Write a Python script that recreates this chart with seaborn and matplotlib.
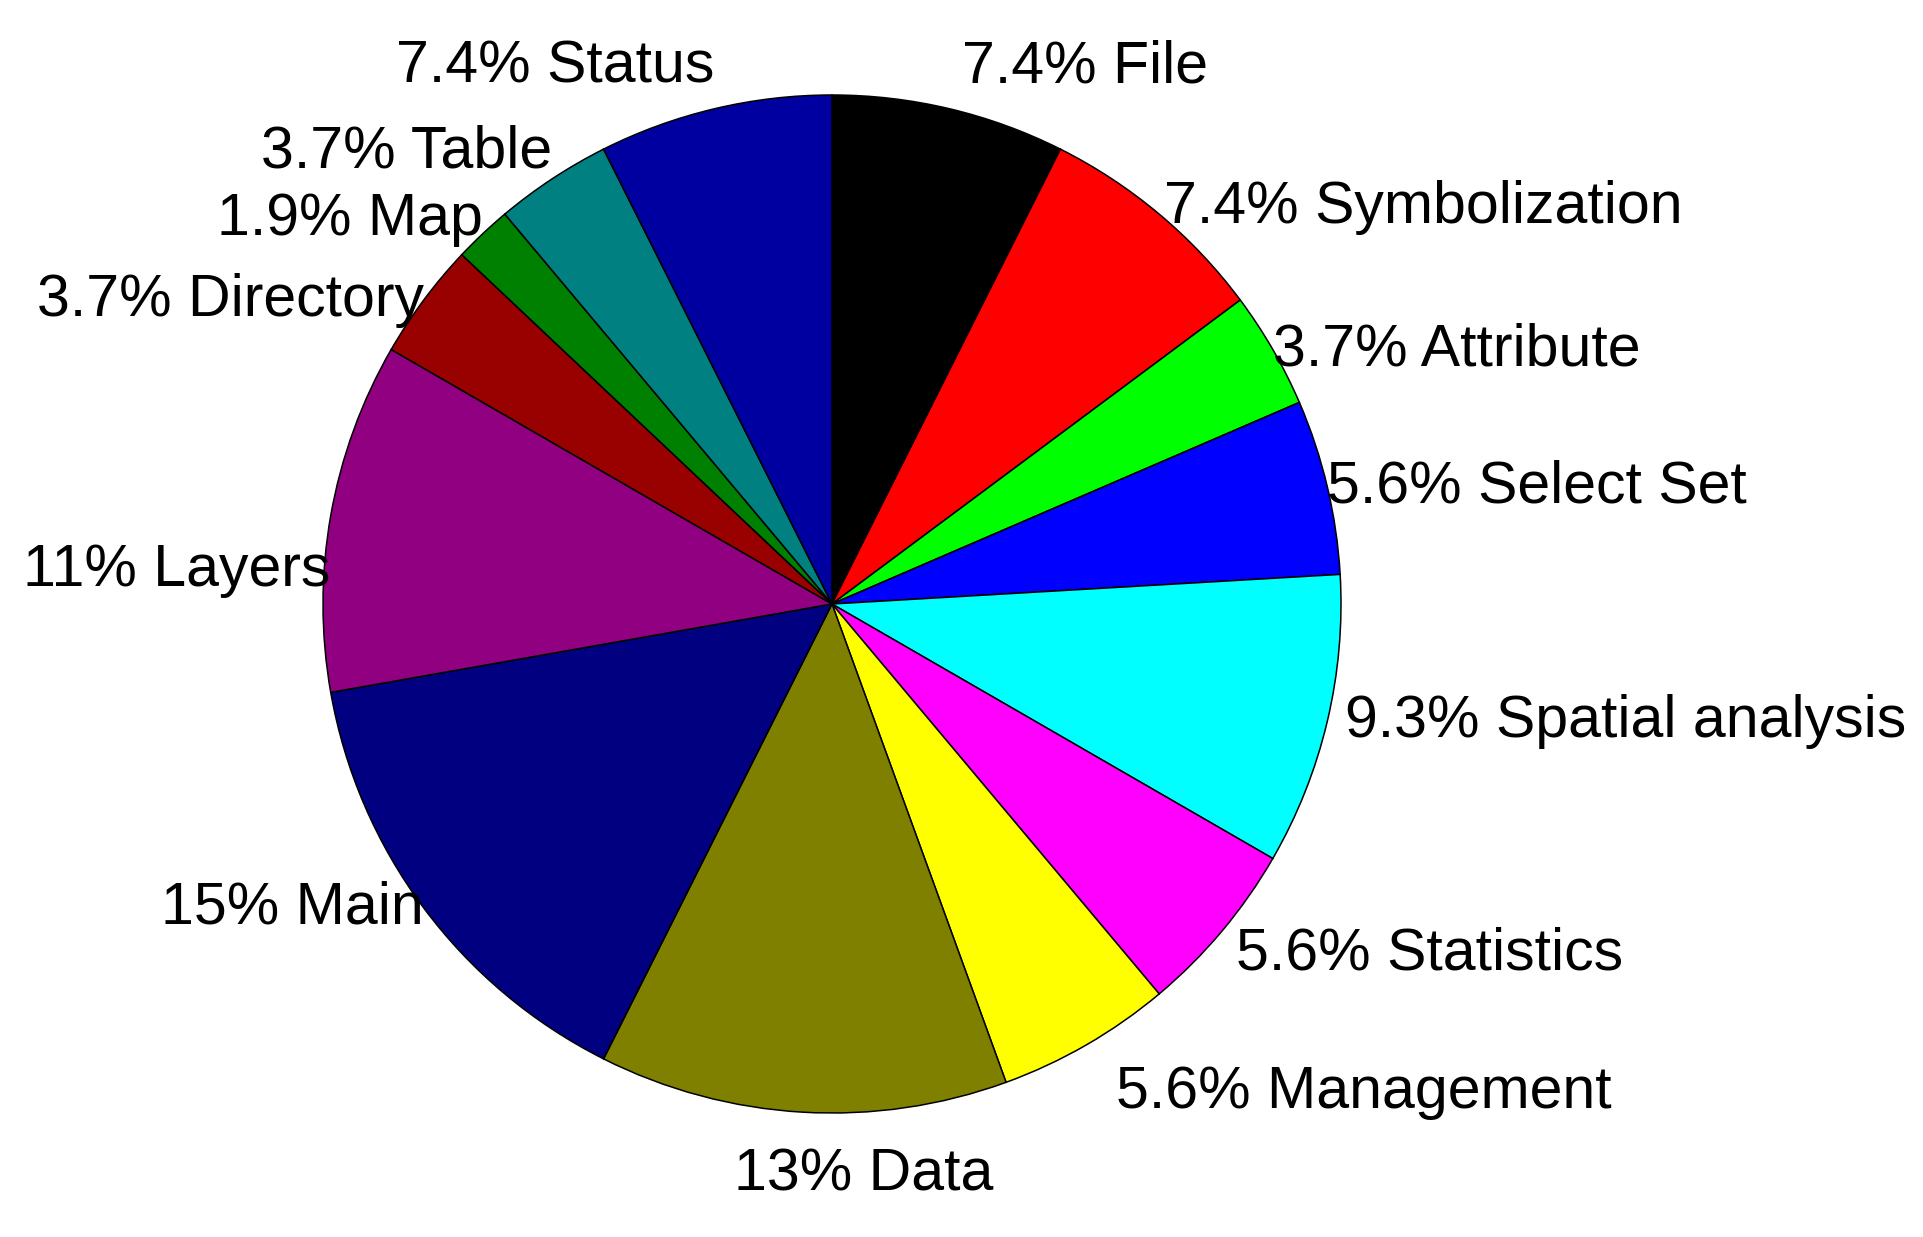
import numpy as np
import matplotlib
matplotlib.use("Agg")
import matplotlib.pyplot as plt
import seaborn as sns

# ==============================
# Data (clockwise from 12 o'clock)
# ==============================
categories = ["File", "Symbolization", "Attribute", "Select Set", "Spatial analysis",
              "Statistics", "Management", "Data", "Main", "Layers",
              "Directory", "Map", "Table", "Status"]
counts = [4, 4, 2, 3, 5, 3, 3, 7, 8, 6, 2, 1, 2, 4]
colors = ["#000000", "#FF0000", "#00FF00", "#0000FF", "#00FFFF",
          "#FF00FF", "#FFFF00", "#808000", "#000080", "#900080",
          "#990000", "#008000", "#008080", "#0000A0"]

# small manual nudges (in pie radius units) like the hand-placed labels
label_nudge = {"Layers": (0.0, -0.107), "Data": (0.12, 0.0),
               "File": (0.024, 0.0), "Symbolization": (0.01, -0.024),
               "Management": (0.04, 0.0)}

sns.set_theme(style="white")
plt.rcParams["font.family"] = ["Liberation Sans", "DejaVu Sans"]

total = sum(counts)
labels = [f"{c / total * 100:.2g}% {name}" for c, name in zip(counts, categories)]

fig = plt.figure(figsize=(19.24, 12.37), dpi=100)
ax = fig.add_axes([0, 0, 1, 1])

wedges, _ = ax.pie(counts, colors=colors, startangle=90, counterclock=False,
                   wedgeprops=dict(edgecolor="black", linewidth=1.1))

# labels just outside the rim, aligned away from the pie
for w, lab, name in zip(wedges, labels, categories):
    mid = np.deg2rad((w.theta1 + w.theta2) / 2)
    x, y = np.cos(mid), np.sin(mid)
    if abs(x) < 0.2:
        ha = "center"
    else:
        ha = "left" if x > 0 else "right"
    r = 1.035 if (x > 0 and y < 0) else 1.0
    y_off = np.sign(y) * 0.22 * max(0.0, abs(y) - 0.6)
    if y < -0.5 and x > -0.2:
        y_off -= 0.035
    dx, dy = label_nudge.get(name, (0.0, 0.0))
    ax.text(x * r + dx, y + y_off + dy, lab, ha=ha, va="center",
            fontsize=42.5, color="black")

# pie centre at ~ (832, 604) px, radius ~509 px
W, H, R = 1924, 1237, 509
cx, cy = 832, 604
ax.set_xlim(-cx / R, (W - cx) / R)
ax.set_ylim(-(H - cy) / R, cy / R)
ax.set_aspect("auto")
ax.axis("off")

fig.savefig("out.png", dpi=100, facecolor="white")
